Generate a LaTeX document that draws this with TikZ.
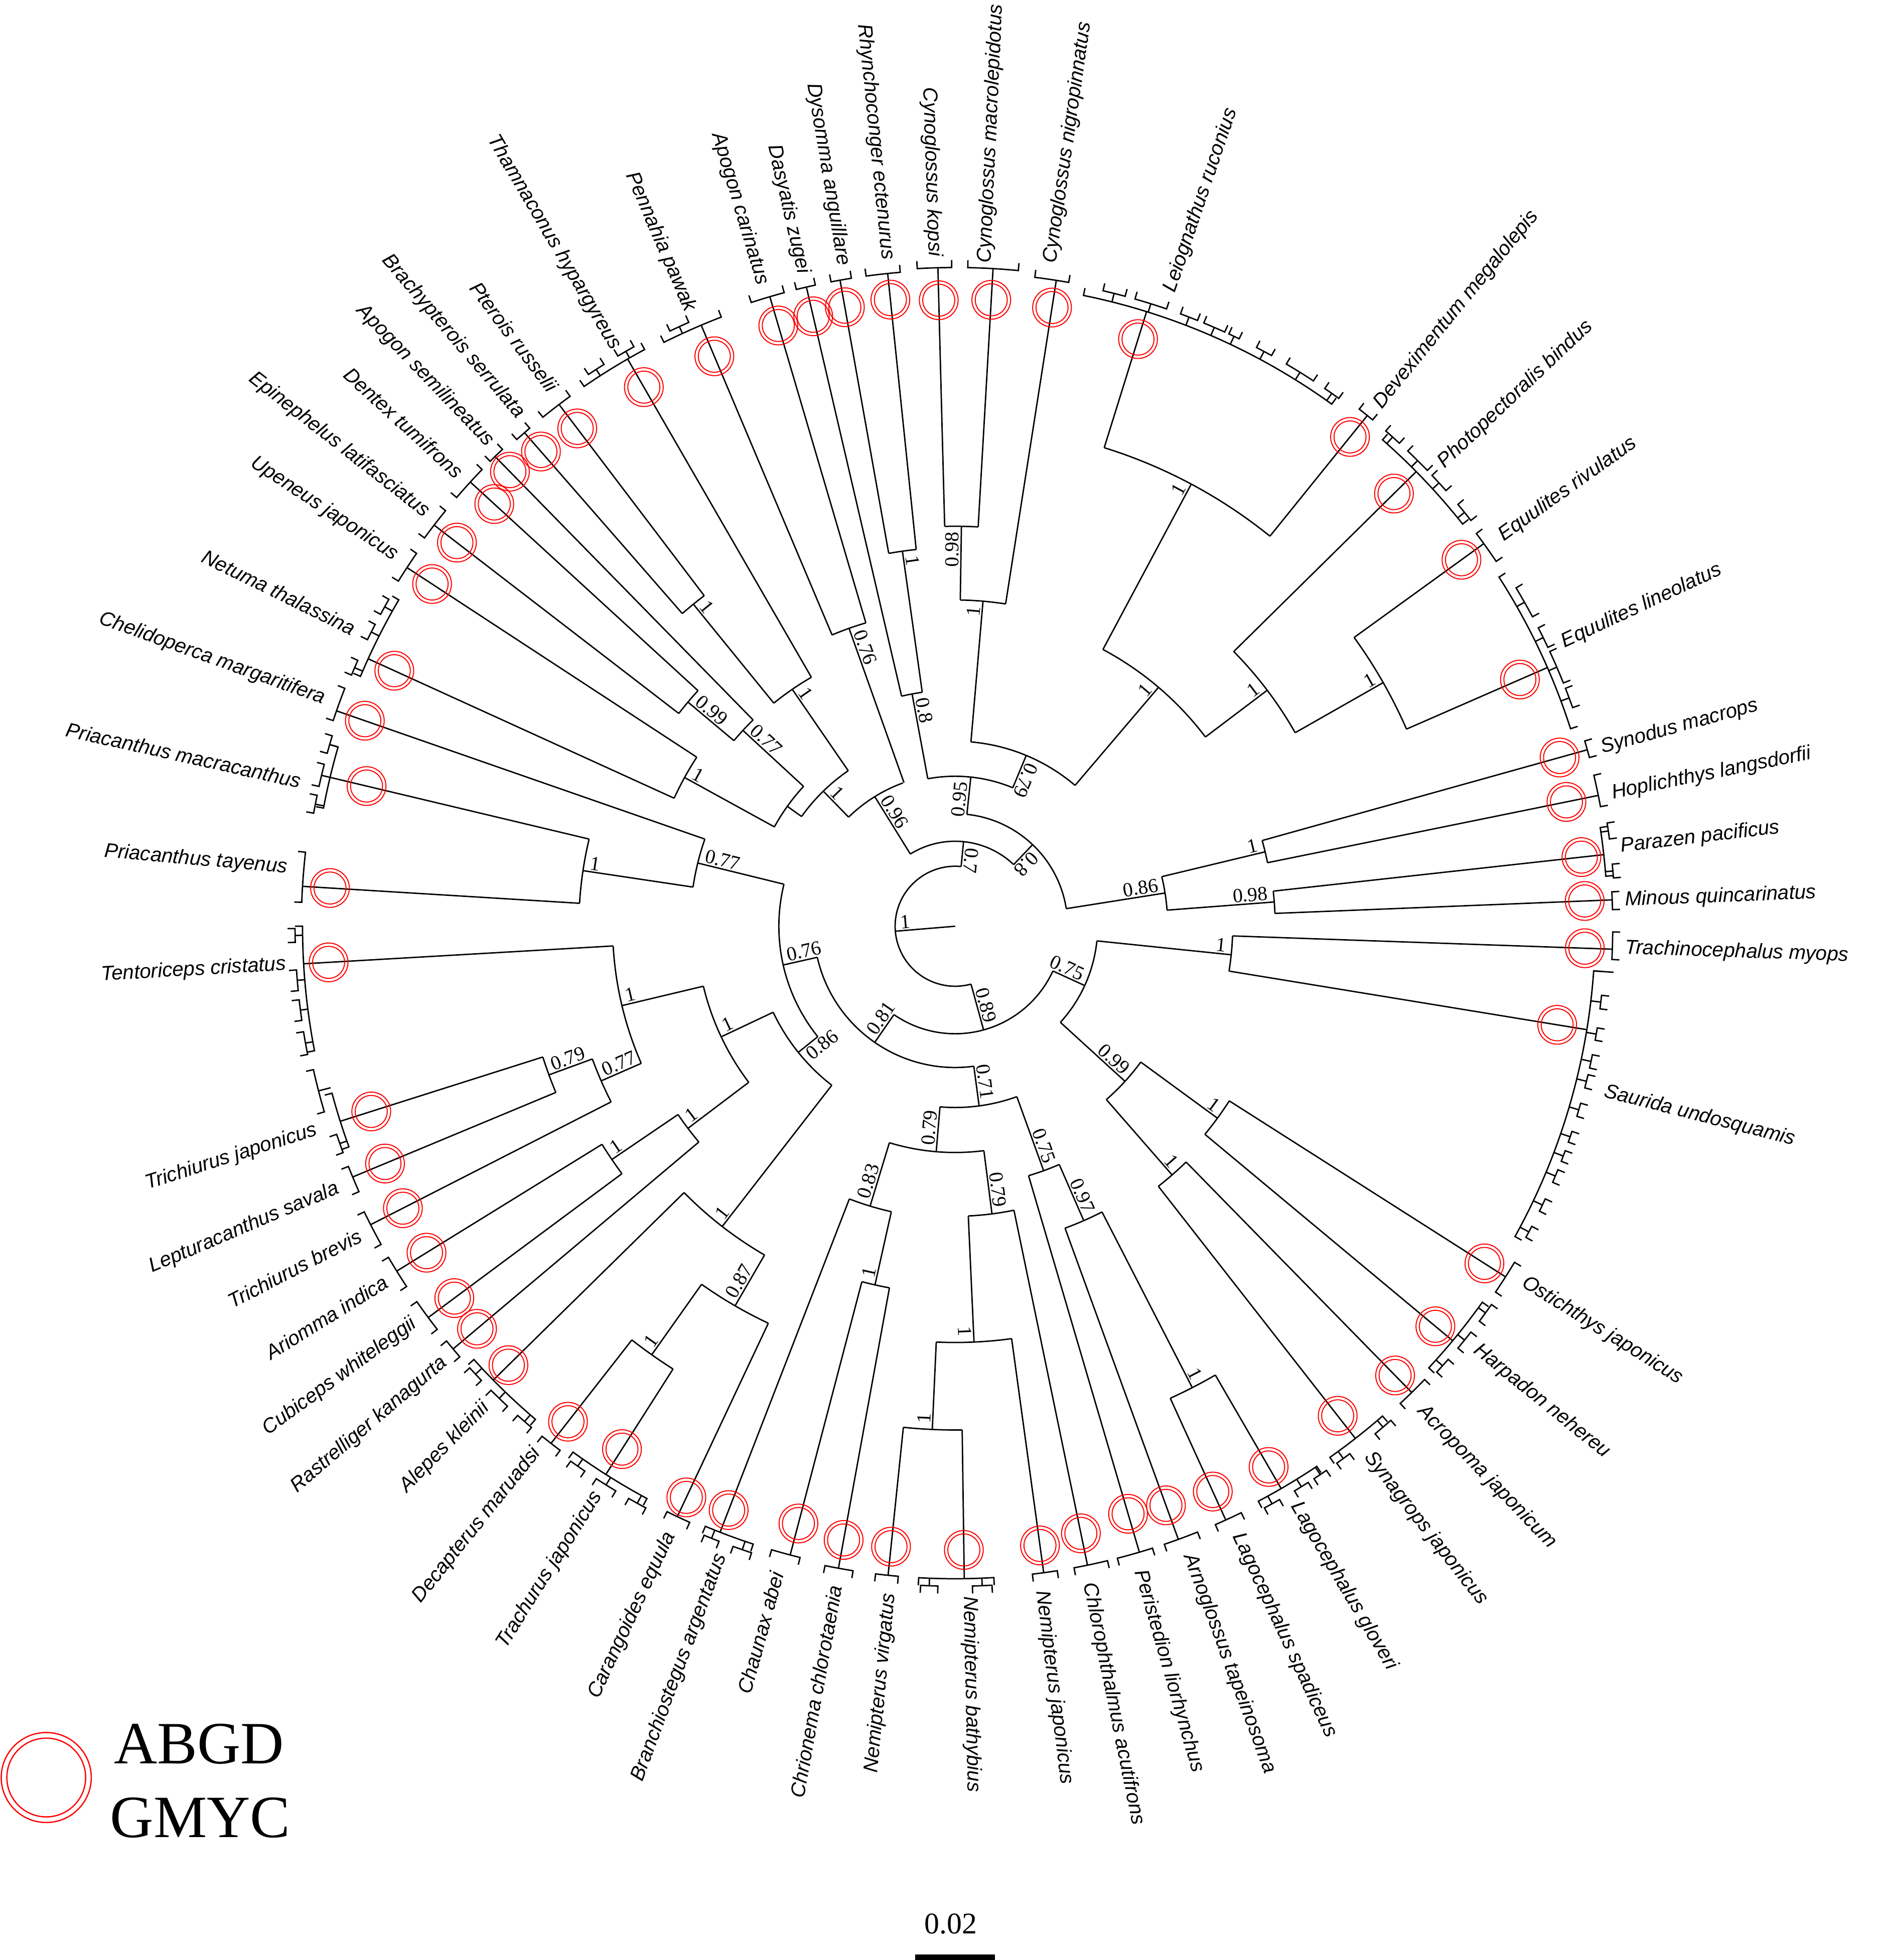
\documentclass[tikz,border=0pt]{standalone}
\usepackage{fontspec}
\setmainfont{Liberation Serif}
\newfontfamily\spfont{Liberation Sans}
\tikzset{
  tr/.style={line width=1.1pt, line join=miter},
  rg/.style={draw=red, line width=0.8pt},
  sp/.style={font=\spfont\itshape\fontsize{16.2}{18}\selectfont, inner sep=0pt},
  nl/.style={font=\fontsize{16}{18}\selectfont, inner sep=1.5pt},
  leg/.style={font=\fontsize{48}{52}\selectfont, inner sep=0pt}
}
% internal node: name, theta, r parent, r node, arc from, arc to
\newcommand\clade[6]{%
  \draw[tr] (#2:#3) -- (#2:#4);
  \draw[tr] (#5:#4) arc[start angle=#5, end angle=#6, radius=#4pt];
  \coordinate (#1) at (#2:#4);}
\newcommand\tipline[3]{\draw[tr] (#1:#2) -- (#1:#3);}
\newcommand\brk[3]{\draw[tr] (#2:#1+6) -- (#2:#1) arc[start angle=#2, end angle=#3, radius=#1pt] -- (#3:#1+6);}
\newcommand\subbrk[4]{\draw[tr] ({(#3+#4)/2}:#1) -- ({(#3+#4)/2}:#2); \brk{#2}{#3}{#4}}
\newcommand\fishring[2]{\draw[rg] (#1:#2) circle[radius=15.5pt] (#1:#2) circle[radius=12.8pt];}
\newcommand\lbR[3]{\node[sp,anchor=west,rotate=#2] (#1) at (#2:536) {#3};}
\newcommand\lbRr[4]{\node[sp,anchor=west,rotate=#2] (#1) at (#2:#3) {#4};}
\newcommand\lbL[3]{\node[sp,anchor=east,rotate=#2+180] (#1) at (#2:536) {#3};}
\newcommand\ndR[4]{\node[nl,anchor=south east,rotate=#2] (#1) at (#2:#3-3) {#4};}
\newcommand\ndRb[4]{\node[nl,anchor=north east,rotate=#2] (#1) at (#2:#3-3) {#4};}
\newcommand\ndL[4]{\node[nl,anchor=south west,rotate=#2+180] (#1) at (#2:#3-3) {#4};}
\newcommand\ndLb[4]{\node[nl,anchor=north west,rotate=#2+180] (#1) at (#2:#3-3) {#4};}
\begin{document}
\begin{tikzpicture}[x=1pt,y=1pt]
\fill[white] (-764,-827) rectangle (737,741);
\useasboundingbox (-764,-827) rectangle (737,741);
% root
\coordinate (ctr) at (0,0);
\coordinate (rootend) at (184.75:48);
\draw[tr] (ctr) -- (rootend);
\draw[tr] (84.3:48) arc[start angle=84.3, end angle=285.35, radius=48pt];
% internal nodes
\clade{n07}{84.3}{48}{68}{46.5}{121.8}
\clade{n096}{121.8}{68}{122}{110}{134.3}
\clade{n08}{46.5}{68}{90}{9}{84}
\clade{n095}{84}{90}{120}{67.4}{100.5}
\clade{n08b}{100.5}{120}{189}{98}{103.1}
\clade{n1dr}{98}{189}{303}{95.9}{100.1}
\clade{n079}{67.4}{120}{148}{49.6}{85.1}
\clade{n1cy}{85.1}{148}{261}{81.1}{89.1}
\clade{n098}{89.1}{261}{320}{86.7}{91.5}
\clade{n1R}{49.6}{148}{251}{37.1}{61.9}
\clade{n1le}{61.9}{251}{401}{51.1}{72.7}
\clade{n1ph}{37.1}{251}{313}{29.65}{44.6}
\clade{n1eq}{29.65}{313}{394}{23.6}{35.9}
\clade{n086}{9}{90}{170}{4.35}{13.5}
\clade{n1sh}{13.5}{170}{255}{11.5}{15.6}
\clade{n098r}{4.35}{170}{256}{2.3}{6.3}
\clade{n076u}{109.6}{122}{253}{106.4}{112.9}
\clade{n1b}{134.3}{122}{151}{124.5}{144.45}
\clade{n1c}{124.5}{151}{230}{120}{129.1}
\clade{n1pb}{129.1}{230}{332}{127.2}{131.1}
\clade{nX}{144.45}{151}{165}{137.3}{151.2}
\clade{n077b}{137.3}{165}{231}{134.4}{140}
\clade{n099}{140}{231}{279}{137.5}{142.4}
\clade{n1nu}{151.2}{165}{247}{146.8}{155.5}
\clade{n089}{285.35}{48}{86}{235.3}{335.4}
\clade{n081}{235.3}{86}{113}{192.7}{277.6}
\clade{n076L}{192.7}{113}{141}{166.2}{218.8}
\clade{n077}{166.2}{141}{212}{160.8}{171.5}
\clade{n1pr}{171.5}{212}{301}{166.6}{176.5}
\clade{n086L}{218.8}{141}{161}{205.3}{232.2}
\clade{n1d}{205.3}{161}{207}{193.4}{217.1}
\clade{n1e}{193.4}{207}{274}{183.3}{203.6}
\clade{n077c}{203.6}{274}{309}{200.1}{207.05}
\clade{n079L}{200.1}{309}{346}{197.6}{202.6}
\clade{n1f}{217.1}{207}{268}{214.2}{220.1}
\clade{n1g}{214.2}{268}{332}{211.7}{216.6}
\clade{n1h}{232.2}{161}{304}{224.5}{239.9}
\clade{n087}{239.9}{304}{351}{234.7}{244.8}
\clade{n1i}{234.7}{351}{420}{232}{237.5}
\clade{n071}{277.6}{113}{145}{265.2}{289.9}
\clade{n079b}{265.2}{145}{181}{253.1}{277.3}
\clade{n083}{253.1}{181}{234}{248.8}{257.4}
\clade{n1j}{257.4}{234}{294}{255.3}{259.7}
\clade{n079c}{277.3}{181}{232}{272.6}{281.7}
\clade{n1k}{272.6}{232}{333}{267.4}{277.8}
\clade{n1l}{267.4}{333}{403}{264.1}{270.8}
\clade{n075b}{289.9}{145}{208}{286.4}{293.6}
\clade{n097}{293.6}{208}{257}{290}{297.2}
\clade{n1m}{297.2}{257}{415}{294.5}{300.1}
\clade{n075}{335.4}{86}{114}{317.6}{354.1}
\clade{n1n2}{354.1}{114}{222}{350.7}{358}
\clade{n099r}{317.6}{114}{184}{311.1}{323.8}
\clade{n1o}{323.8}{184}{260}{320.2}{327.5}
\clade{n1p}{311.1}{184}{264}{308}{314.4}
% leaves
\tipline{81.1}{261}{523} \brk{523}{80}{83}
\tipline{86.7}{320}{527} \brk{527}{84.5}{88.9}
\tipline{91.5}{320}{527} \brk{527}{90.3}{93.3}
\tipline{95.9}{303}{525} \brk{525}{94.8}{97.8}
\tipline{100.1}{303}{525} \brk{525}{99.1}{100.9}
\tipline{103.1}{189}{525} \brk{525}{102.3}{104}
\tipline{106.4}{253}{525} \brk{525}{105.1}{108.1}
\tipline{112.9}{253}{522} \brk{522}{111}{116.5} \subbrk{522}{528}{113.8}{115.6}
\tipline{120}{230}{524} \brk{524}{118.3}{124.5} \subbrk{524}{530}{119}{120.6} \subbrk{524}{530}{122}{123.6}
\tipline{127.2}{332}{524} \brk{524}{126}{129}
\tipline{131.1}{332}{524} \brk{524}{130.5}{132}
\tipline{134.4}{231}{526} \brk{526}{133.5}{135}
\tipline{137.5}{279}{526} \brk{526}{136}{139.3}
\tipline{142.4}{279}{526} \brk{526}{140.8}{143.8}
\tipline{146.8}{247}{524} \brk{524}{145.3}{148.2}
\tipline{155.5}{247}{516} \brk{516}{149.6}{157.2}
 \subbrk{516}{523}{150}{151.5} \subbrk{516}{523}{152.5}{154} \subbrk{516}{523}{156}{157.4}
\tipline{160.8}{212}{524} \brk{524}{158.7}{161.7}
\tipline{166.6}{301}{514} \brk{514}{163.8}{169.4}
 \subbrk{514}{521}{163}{164.6} \subbrk{514}{521}{165.6}{167.6} \subbrk{514}{521}{168.4}{170}
\tipline{176.5}{301}{523} \brk{523}{173.5}{177.9}
\tipline{183.3}{274}{522} \brk{522}{180}{191}
 \subbrk{522}{528}{180.2}{181.4} \subbrk{522}{528}{183.8}{185.6} \subbrk{522}{528}{186.4}{188.2} \subbrk{522}{528}{189.2}{191.2}
\tipline{197.6}{346}{516} \brk{516}{195}{200} \subbrk{516}{526}{192.6}{196.4} \subbrk{516}{522}{198.6}{200.3}
\tipline{202.6}{346}{522} \brk{522}{201.6}{204}
\tipline{207.05}{309}{525} \brk{525}{205.8}{209}
\tipline{211.7}{332}{525} \brk{525}{210.3}{213.3}
\tipline{216.6}{332}{525} \brk{525}{214.9}{217.9}
\tipline{220.1}{268}{525} \brk{525}{219.2}{221}
\tipline{224.5}{304}{518} \brk{518}{222}{229.6}
 \subbrk{518}{525}{222.3}{223.8} \subbrk{518}{525}{225}{227} \subbrk{518}{525}{228.2}{229.8}
\tipline{232}{420}{525} \brk{525}{231}{233}
\tipline{237.5}{420}{520} \brk{520}{234}{241.7}
 \subbrk{520}{527}{234.3}{235.8} \subbrk{520}{527}{237}{239} \subbrk{520}{527}{240.3}{242}
\tipline{244.8}{351}{522} \brk{522}{243.8}{246}
\tipline{248.8}{234}{520} \brk{520}{247.4}{251.9} \subbrk{520}{527}{247.6}{249} \subbrk{520}{527}{250.3}{252}
\tipline{255.3}{294}{520} \brk{520}{253.6}{256.2}
\tipline{259.7}{294}{522} \brk{522}{258.5}{261}
\tipline{264.1}{403}{522} \brk{522}{263}{265}
\tipline{270.8}{403}{522} \brk{522}{266.8}{273.4} \subbrk{522}{528}{267}{268.5} \subbrk{522}{528}{271.5}{273.2}
\tipline{277.8}{333}{522} \brk{522}{276.8}{279}
\tipline{281.7}{232}{522} \brk{522}{280.5}{283.5}
\tipline{286.4}{208}{522} \brk{522}{284.4}{287.6}
\tipline{290}{257}{522} \brk{522}{288.7}{291.8}
\tipline{294.5}{415}{522} \brk{522}{293.5}{296}
\tipline{300.1}{415}{520} \brk{520}{297.8}{303.8}
 \subbrk{520}{527}{298}{299.5} \subbrk{520}{527}{301}{302.4} \subbrk{520}{527}{303}{304.3}
\tipline{308}{264}{520} \brk{520}{305.2}{311.1} \subbrk{520}{527}{305.4}{306.8} \subbrk{520}{527}{309.6}{311.4}
\tipline{314.4}{264}{522} \brk{522}{313}{316}
\tipline{320.2}{260}{518} \brk{518}{317}{324.5}
 \subbrk{518}{525}{317.2}{318.7} \subbrk{518}{525}{320}{321.8} \subbrk{518}{525}{323}{324.8}
\tipline{327.5}{260}{522} \brk{522}{325.9}{329}
% Saurida clade
\tipline{350.7}{222}{512} \brk{512}{331}{356} \tipline{356}{512}{528}
 \subbrk{512}{520}{352.7}{353.9} \subbrk{512}{520}{349.9}{351} \subbrk{512}{520}{347.4}{348.6}
 \subbrk{512}{520}{345.6}{346.8} \subbrk{512}{520}{343}{344.2} \subbrk{512}{520}{340.6}{341.6}
 \subbrk{512}{520}{338.8}{339.8} \subbrk{512}{520}{336.8}{338} \subbrk{512}{520}{334}{335.2}
 \subbrk{512}{520}{331.4}{332.5}
\tipline{358}{222}{526} \brk{526}{357.1}{359.5}
\tipline{2.3}{256}{526} \brk{526}{1.45}{3}
\tipline{6.3}{256}{522} \brk{522}{4.4}{8.7} \subbrk{522}{528}{4.2}{5.4} \subbrk{522}{528}{7.6}{9}
\tipline{11.5}{255}{525} \brk{525}{10.5}{13.3}
\tipline{15.6}{255}{525} \brk{525}{14.9}{16.4}
% Equulites lineolatus clade
\tipline{23.6}{394}{517} \brk{517}{17.8}{32.7}
 \subbrk{517}{524}{28.2}{31.1} \subbrk{517}{524}{25.2}{27.1} \subbrk{517}{524}{21.8}{24.8} \subbrk{517}{524}{19.5}{21.3}
\tipline{35.9}{394}{522} \brk{522}{34}{37}
\tipline{44.6}{313}{518} \brk{518}{38.4}{48.7}
 \subbrk{518}{525}{47.4}{49} \subbrk{518}{525}{44}{46.4} \subbrk{518}{525}{41.6}{43.4} \subbrk{518}{525}{38.2}{40}
\tipline{51.1}{401}{525} \brk{525}{50.5}{52}
% Leiognathus clade
\tipline{72.7}{401}{515} \brk{515}{54.2}{78.5}
 \subbrk{515}{522}{74.9}{76.9} \subbrk{515}{522}{71.1}{74} \subbrk{515}{522}{68.2}{69.8}
 \subbrk{515}{522}{65.6}{67.6} \subbrk{515}{522}{64.2}{65.2} \subbrk{515}{522}{61}{62.5}
 \subbrk{515}{522}{56.7}{59.5} \subbrk{515}{522}{54}{55.5}
% rings
\fishring{81.1}{501} \fishring{86.7}{502} \fishring{91.5}{501} \fishring{95.9}{504}
\fishring{100.1}{503} \fishring{103.1}{501} \fishring{106.4}{501} \fishring{112.9}{495}
\fishring{120}{498} \fishring{127.2}{500} \fishring{131.1}{504} \fishring{134.4}{509}
\fishring{137.5}{500} \fishring{142.4}{503} \fishring{146.8}{500} \fishring{155.5}{493}
\fishring{160.8}{500} \fishring{166.6}{484} \fishring{176.5}{501} \fishring{183.3}{502}
\fishring{197.6}{490} \fishring{202.6}{494} \fishring{207.05}{496} \fishring{211.7}{497}
\fishring{216.6}{499} \fishring{220.1}{500} \fishring{224.5}{501} \fishring{232}{503}
\fishring{237.5}{496} \fishring{244.8}{505} \fishring{248.8}{501} \fishring{255.3}{494}
\fishring{259.7}{499} \fishring{264.1}{499} \fishring{270.8}{499} \fishring{277.8}{500}
\fishring{281.7}{496} \fishring{286.4}{490} \fishring{290}{493} \fishring{294.5}{497}
\fishring{300.1}{500} \fishring{308}{497} \fishring{314.4}{503} \fishring{320.2}{500}
\fishring{327.5}{502} \fishring{350.7}{488} \fishring{358}{504} \fishring{2.3}{504}
\fishring{6.3}{504} \fishring{11.5}{499} \fishring{15.6}{502} \fishring{23.6}{493}
\fishring{35.9}{500} \fishring{44.6}{493} \fishring{51.1}{503} \fishring{72.7}{492}
% node labels
\ndL{lroot}{184.75}{48}{1}
\ndL{l07}{84.3}{68}{0.7}
\ndL{l096}{121.8}{122}{0.96}
\ndL{l08}{46.5}{90}{0.8}
\ndR{l095}{84}{120}{0.95}
\ndL{l08b}{100.5}{189}{0.8}
\ndL{l1dr}{98}{303}{1}
\ndL{l079}{67.4}{148}{0.79}
\ndR{l1cy}{85.1}{261}{1}
\ndR{l098}{89.1}{320}{0.98}
\ndR{l1R}{49.6}{251}{1}
\ndR{l1le}{61.9}{401}{1}
\ndR{l1ph}{37.1}{313}{1}
\ndR{l1eq}{29.65}{394}{1}
\ndR{l086}{9}{170}{0.86}
\ndR{l1sh}{13.5}{255}{1}
\ndR{l098r}{4.35}{256}{0.98}
\ndL{l076u}{109.6}{253}{0.76}
\ndL{l1b}{134.3}{151}{1}
\ndL{l1c}{124.5}{230}{1}
\ndL{l1pb}{129.1}{332}{1}
\ndL{l077b}{137.3}{231}{0.77}
\ndL{l099}{140}{279}{0.99}
\ndL{l1nu}{151.2}{247}{1}
\ndR{l089}{285.35}{86}{0.89}
\ndL{l081}{235.3}{113}{0.81}
\ndL{l076L}{192.7}{141}{0.76}
\ndL{l077}{166.2}{212}{0.77}
\ndL{l1pr}{171.5}{301}{1}
\ndLb{l086L}{218.8}{161}{0.86}
\ndL{l1d}{205.3}{207}{1}
\ndL{l1e}{193.4}{274}{1}
\ndL{l077c}{203.6}{309}{0.77}
\ndL{l079L}{200.1}{346}{0.79}
\ndL{l1f}{217.1}{268}{1}
\ndL{l1g}{214.2}{332}{1}
\ndL{l1h}{232.2}{304}{1}
\ndL{l087}{239.9}{351}{0.87}
\ndL{l1i}{234.7}{420}{1}
\ndR{l071}{277.6}{145}{0.71}
\ndL{l079b}{265.2}{181}{0.79}
\ndL{l083}{253.1}{234}{0.83}
\ndL{l1j}{257.4}{294}{1}
\ndR{l079c}{277.3}{232}{0.79}
\ndRb{l1k}{272.6}{333}{1}
\ndL{l1l}{267.4}{403}{1}
\ndR{l075b}{289.9}{208}{0.75}
\ndR{l097}{293.6}{257}{0.97}
\ndR{l1m}{297.2}{415}{1}
\ndR{l075}{335.4}{114}{0.75}
\ndR{l1n2}{354.1}{222}{1}
\ndR{l099r}{317.6}{184}{0.99}
\ndR{l1o}{323.8}{260}{1}
\ndR{l1p}{311.1}{264}{1}
% species labels
\lbR{s1}{81.8}{Cynoglossus nigropinnatus}
\lbRr{s2}{87.4}{531}{Cynoglossus macrolepidotus}
\lbL{s3}{91.8}{Cynoglossus kopsi}
\lbL{s4}{95.8}{Rhynchoconger ectenurus}
\lbL{s5}{99.6}{Dysomma anguillare}
\lbL{s6}{103.1}{Dasyatis zugei}
\lbL{s7}{106.7}{Apogon carinatus}
\lbL{s8}{113.3}{Pennahia pawak}
\lbL{s9}{120.4}{Thamnaconus hypargyreus}
\lbL{s10}{126.8}{Pterois russelii}
\lbL{s11}{130.4}{Brachypterois serrulata}
\lbL{s12}{133.9}{Apogon semilineatus}
\lbL{s13}{137.6}{Dentex tumifrons}
\lbL{s14}{142}{Epinephelus latifasciatus}
\lbL{s15}{146.5}{Upeneus japonicus}
\lbL{s16}{153.7}{Netuma thalassina}
\lbL{s17}{160.2}{Chelidoperca margaritifera}
\lbL{s18}{167.5}{Priacanthus macracanthus}
\lbL{s19}{175}{Priacanthus tayenus}
\lbL{s20}{183.3}{Tentoriceps cristatus}
\lbL{s21}{197.7}{Trichiurus japonicus}
\lbL{s22}{203}{Lepturacanthus savala}
\lbL{s23}{207.4}{Trichiurus brevis}
\lbL{s24}{211.9}{Ariomma indica}
\lbL{s25}{216.2}{Cubiceps whiteleggii}
\lbL{s26}{220.4}{Rastrelliger kanagurta}
\lbL{s27}{225.6}{Alepes kleinii}
\lbL{s28}{231.4}{Decapterus maruadsi}
\lbL{s29}{237.8}{Trachurus japonicus}
\lbL{s30}{244.9}{Carangoides equula}
\lbL{s31}{249.6}{Branchiostegus argentatus}
\lbL{s32}{254.6}{Chaunax abei}
\lbL{s33}{259.7}{Chrionema chlorotaenia}
\lbL{s34}{264.4}{Nemipterus virgatus}
\lbR{s35}{271.2}{Nemipterus bathybius}
\lbR{s36}{277.4}{Nemipterus japonicus}
\lbR{s37}{281.5}{Chlorophthalmus acutifrons}
\lbR{s38}{286}{Peristedion liorhynchus}
\lbR{s39}{290.4}{Arnoglossus tapeinosoma}
\lbR{s40}{294.9}{Lagocephalus spadiceus}
\lbR{s41}{300.5}{Lagocephalus gloveri}
\lbR{s42}{308}{Synagrops japonicus}
\lbR{s43}{314}{Acropoma japonicum}
\lbR{s44}{321}{Harpadon nehereu}
\lbR{s45}{328}{Ostichthys japonicus}
\lbR{s46}{345.7}{Saurida undosquamis}
\lbR{s47}{358.1}{Trachinocephalus myops}
\lbR{s48}{2.2}{Minous quincarinatus}
\lbR{s49}{6.8}{Parazen pacificus}
\lbR{s50}{11.4}{Hoplichthys langsdorfii}
\lbR{s51}{15.4}{Synodus macrops}
\lbR{s52}{25}{Equulites lineolatus}
\lbR{s53}{35.5}{Equulites rivulatus}
\lbR{s54}{43.5}{Photopectoralis bindus}
\lbR{s55}{50.9}{Deveximentum megalolepis}
\lbR{s56}{71.3}{Leiognathus ruconius}
% legend
\coordinate (legc) at (-727,-681);
\draw[rg, line width=1pt] (legc) circle[radius=36pt] (legc) circle[radius=31.5pt];
\node[leg, anchor=base west] (abgd) at (-673,-670) {ABGD};
\node[leg, anchor=base west] (gmyc) at (-676,-729) {GMYC};
% scale bar
\coordinate (sbl) at (-32,-825);
\coordinate (sbr) at (32,-825);
\draw[line width=4.5pt] (sbl) -- (sbr);
\node[font=\fontsize{24}{26}\selectfont, inner sep=0pt] (sbt) at (-3.5,-798) {0.02};
\end{tikzpicture}
\end{document}
